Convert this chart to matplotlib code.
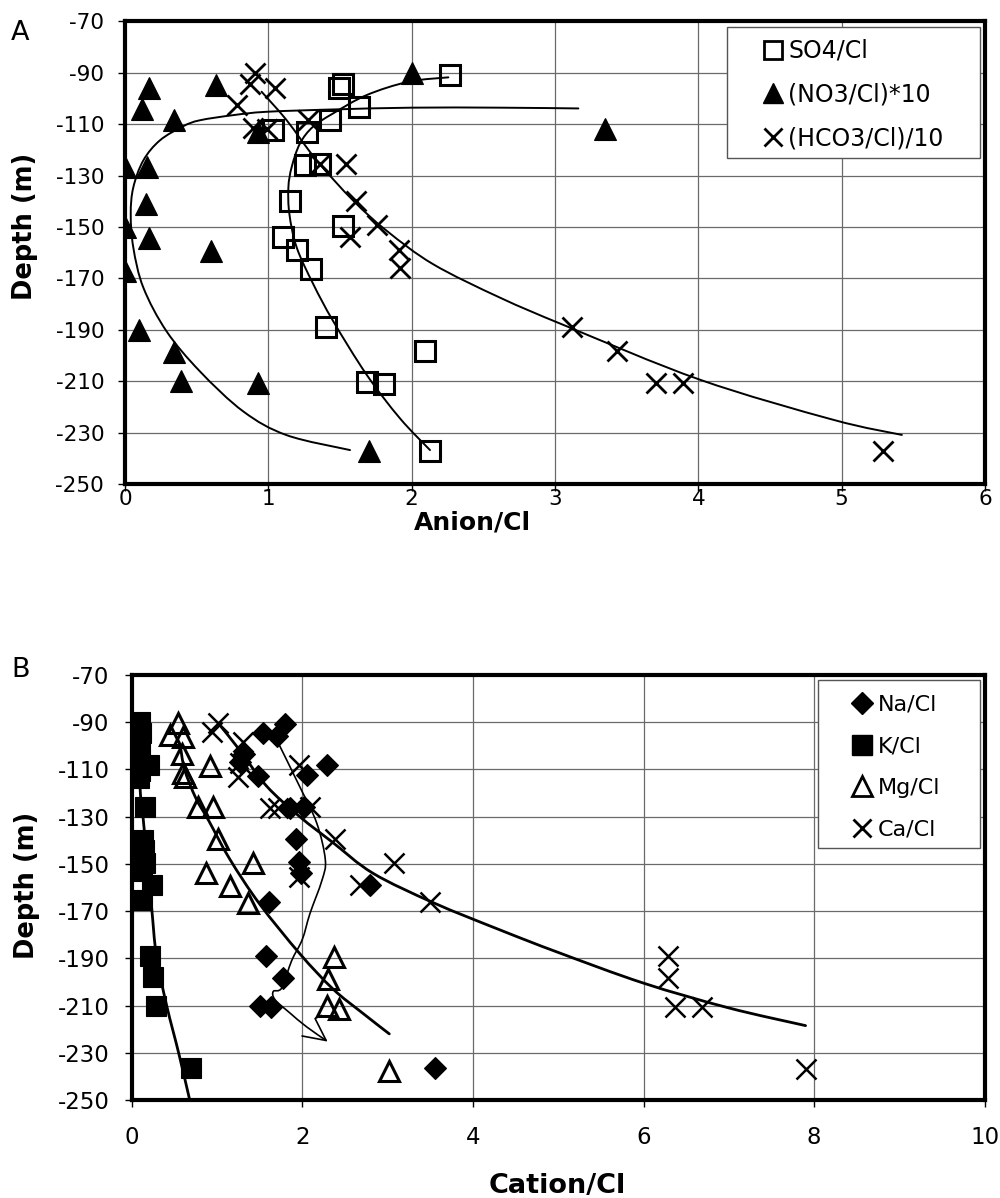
import numpy as np
import matplotlib
matplotlib.use("Agg")
import matplotlib.pyplot as plt
from matplotlib.path import Path
from matplotlib.patches import PathPatch, Rectangle
from matplotlib.lines import Line2D

plt.rcParams["font.family"] = ["DejaVu Sans"]
plt.rcParams["axes.unicode_minus"] = False

# ---------------- Panel A: anion ratios vs depth ----------------
so4_ratio = [2.27, 1.52, 1.495, 1.63, 1.43, 1.035, 1.27, 1.256, 1.36, 1.15,
             1.52, 1.10, 1.20, 1.30, 1.40, 2.09, 1.69, 1.81, 2.13]
so4_depth = [-91, -94.5, -96.1, -103.3, -108.5, -112.4, -113, -126, -125.5, -140,
             -149.5, -153.8, -159, -166.2, -189, -198.4, -210.5, -211.2, -237]

no3_ratio = [2.0, 0.17, 0.635, 0.116, 0.34, 0.93, 3.35, 0.0, 0.156, 0.147,
             0.0, 0.167, 0.60, 0.0, 0.10, 0.34, 0.39, 0.93, 1.70]
no3_depth = [-90.3, -96, -94.8, -104.3, -108.4, -113, -112, -126.5, -126.5, -141,
             -150, -154.4, -159.5, -167, -190, -198.6, -210, -210.6, -237]

hco3_ratio = [0.907, 0.872, 1.047, 0.78, 0.895, 0.99, 1.28, 1.36, 1.54, 1.61,
              1.76, 1.57, 1.91, 1.92, 3.12, 3.43, 3.705, 3.89, 5.29]
hco3_depth = [-90.2, -94.5, -96.1, -102.6, -111.7, -112, -108.5, -125.5, -125.4, -139.8,
              -149.2, -153.8, -159, -165.8, -189, -198.3, -210.7, -210.7, -237]

# hand-drawn trend curves (ratio, depth)
so4_trend_x = [2.256, 1.98, 1.686, 1.45, 1.31, 1.22, 1.163, 1.14, 1.147, 1.198,
               1.314, 1.453, 1.686, 1.919, 2.128]
so4_trend_d = [-91.8, -93.5, -98.7, -105.9, -111.1, -117.6, -126.7, -134.6, -145, -158,
               -172.3, -186.7, -207.5, -224.5, -236.8]

no3_trend_x = [3.163, 2.616, 2.0, 1.453, 0.988, 0.756, 0.523, 0.407, 0.244, 0.128,
               0.058, 0.04, 0.058, 0.128, 0.29, 0.523, 0.826, 1.128, 1.57]
no3_trend_d = [-103.9, -103.6, -103.6, -104.3, -105.2, -106.5, -108.5, -110.8, -116.3, -124.1,
               -134.6, -145, -158, -173.6, -190.6, -206.2, -221.8, -231, -236.8]

hco3_trend_x = [0.953, 1.128, 1.337, 1.593, 1.826, 2.15, 2.616, 3.08, 4.01, 4.94, 5.42]
hco3_trend_d = [-97.4, -108.5, -124.1, -139.8, -151.5, -164.5, -177.5, -188.6, -209.4, -225, -230.9]

# ---------------- Panel B: cation ratios vs depth ----------------
na_ratio = [1.80, 1.54, 1.70, 1.32, 1.27, 2.29, 2.05, 1.48, 1.86, 2.02,
            1.93, 1.96, 1.99, 2.79, 1.61, 1.57, 1.77, 1.50, 1.63, 3.55]
na_depth = [-90.6, -94.4, -96, -103.4, -107, -108, -112.3, -112.7, -126.4, -125.7,
            -139.6, -149, -154, -158.9, -166, -189, -198.3, -210.2, -210.5, -236.6]

k_ratio = [0.10, 0.11, 0.10, 0.09, 0.20, 0.10, 0.08, 0.156, 0.136, 0.14,
           0.156, 0.12, 0.234, 0.117, 0.215, 0.254, 0.285, 0.69]
k_depth = [-90, -94.7, -99.5, -104, -108, -110.7, -113.5, -125.7, -139.9, -144,
           -149.7, -153, -158.9, -165.3, -189, -198, -210.2, -236.6]

mg_ratio = [0.547, 0.449, 0.605, 0.586, 0.918, 0.60, 0.63, 0.781, 0.957, 1.016,
            0.871, 1.426, 1.152, 1.367, 2.375, 2.30, 2.285, 2.43, 3.02]
mg_depth = [-90.2, -95.4, -96.4, -103.4, -108.4, -111.5, -113, -126, -126, -139.6,
            -154, -149.7, -159.2, -166.7, -189.3, -198.9, -210.2, -211.5, -237.6]

ca_ratio = [1.016, 0.94, 1.31, 1.27, 1.25, 1.96, 1.62, 1.72, 2.09, 2.38,
            3.07, 1.96, 2.68, 3.50, 6.29, 6.29, 6.37, 6.68, 7.90]
ca_depth = [-90.4, -94, -98.2, -107.4, -113, -108, -126.4, -126.4, -125.7, -139.6,
            -149.5, -155.4, -158.9, -166, -189, -198.5, -210.5, -210.8, -237]

k_trend_x = [0.08, 0.10, 0.135, 0.23, 0.29, 0.41, 0.55, 0.68]
k_trend_d = [-95, -119, -131, -167, -189, -210, -230, -250]

mg_trend_x = [0.57, 0.62, 0.75, 0.9, 1.15, 1.5, 1.97, 2.36, 2.7, 3.02]
mg_trend_d = [-100, -110, -122, -131.5, -148, -167, -188, -203, -213, -222]

ca_trend_x = [1.05, 1.27, 1.58, 1.97, 2.36, 2.83, 3.54, 4.32, 5.0, 6.0, 7.0, 7.9]
ca_trend_d = [-92, -102, -117, -130, -141, -154, -166.5, -178, -187.5, -200.5, -211, -218.5]

na_trend_x = [1.68, 1.97, 2.17, 2.27, 2.23, 2.09, 2.0, 1.875, 1.76, 1.66, 1.68, 1.85, 2.05, 2.28]
na_trend_d = [-96, -117.3, -132.8, -148.3, -157, -171, -182, -191, -202.5, -204, -207.5, -213, -219, -224.8]
na_arrow_x = [2.0, 2.28, 2.15, 2.22]
na_arrow_d = [-222.9, -224.8, -215.5, -214.2]

# ---------------- figure ----------------
W, H = 1000, 1198
fig = plt.figure(figsize=(W / 100, H / 100), dpi=100)


def fx(px):
    return px / W


def fy(py):
    return 1 - py / H


axA = fig.add_axes([fx(125), fy(484), (985 - 125) / W, (484 - 21.3) / H])
axB = fig.add_axes([fx(131.7), fy(1100), (984.7 - 131.7) / W, (1100 - 675) / H])


def smooth_curve(ax, xs, ys, lw):
    """Draw a smooth Catmull-Rom curve through the given guide points."""
    pts = np.column_stack([xs, ys]).astype(float)
    verts = [pts[0]]
    codes = [Path.MOVETO]
    n = len(pts)
    for i in range(n - 1):
        p0 = pts[i - 1] if i > 0 else pts[i]
        p1 = pts[i]
        p2 = pts[i + 1]
        p3 = pts[i + 2] if i + 2 < n else pts[i + 1]
        verts += [p1 + (p2 - p0) / 6.0, p2 - (p3 - p1) / 6.0, p2]
        codes += [Path.CURVE4] * 3
    patch = PathPatch(Path(verts, codes), fill=False, lw=lw, ec="black",
                      transform=ax.transData, zorder=3, capstyle="round")
    ax.add_patch(patch)


def style(ax, xmax, xstep, fs, ypad, xpad):
    ax.set_xlim(0, xmax)
    ax.set_ylim(-250, -70)
    ax.set_xticks(np.arange(0, xmax + 0.01, xstep))
    ax.set_yticks(np.arange(-250, -69, 20))
    ax.grid(True, color="#6a6a6a", lw=0.9)
    ax.set_axisbelow(True)
    for s in ax.spines.values():
        s.set_linewidth(3)
        s.set_zorder(6)
    ax.tick_params(axis="both", direction="out", length=5, width=1, labelsize=fs)
    ax.tick_params(axis="y", pad=ypad)
    ax.tick_params(axis="x", pad=xpad)


style(axA, 6, 1, 15.5, 10, -1.5)
style(axB, 10, 2, 16.5, 11, 13.5)

# panel A markers
axA.plot(so4_ratio, so4_depth, ls="none", marker="s", ms=14.5, mfc="none", mec="black", mew=2.2, zorder=4)
axA.plot(no3_ratio, no3_depth, ls="none", marker="^", ms=16, mfc="black", mec="black", mew=0.8, zorder=4)
axA.plot(hco3_ratio, hco3_depth, ls="none", marker="x", ms=15, mec="black", mew=2.0, zorder=4)
smooth_curve(axA, so4_trend_x, so4_trend_d, 1.4)
smooth_curve(axA, no3_trend_x, no3_trend_d, 1.4)
smooth_curve(axA, hco3_trend_x, hco3_trend_d, 1.4)

# panel B markers
axB.plot(na_ratio, na_depth, ls="none", marker="D", ms=11.5, mfc="black", mec="black", mew=0.8, zorder=4)
axB.plot(k_ratio, k_depth, ls="none", marker="s", ms=15, mfc="black", mec="black", mew=0.8, zorder=4)
axB.plot(mg_ratio, mg_depth, ls="none", marker="^", ms=15, mfc="none", mec="black", mew=2.2, zorder=4)
axB.plot(ca_ratio, ca_depth, ls="none", marker="x", ms=15, mec="black", mew=1.8, zorder=4)
smooth_curve(axB, k_trend_x, k_trend_d, 2.0)
smooth_curve(axB, mg_trend_x, mg_trend_d, 2.0)
smooth_curve(axB, ca_trend_x, ca_trend_d, 2.0)
smooth_curve(axB, na_trend_x, na_trend_d, 1.2)
axB.plot(na_arrow_x, na_arrow_d, color="black", lw=1.2, zorder=3)

# legends: white framed boxes with marker/label rows
def legend_box(ax, left, top, right, bottom):
    ax.add_patch(Rectangle((fx(left), fy(bottom)), (right - left) / W, (bottom - top) / H,
                           transform=fig.transFigure, facecolor="white", edgecolor="#555555",
                           lw=1.0, zorder=5, clip_on=False))


legend_box(axA, 727, 27, 980, 158)
hA = [Line2D([], [], ls="none", marker="s", ms=13, mfc="none", mec="black", mew=2.0),
      Line2D([], [], ls="none", marker="^", ms=15, mfc="black", mec="black"),
      Line2D([], [], ls="none", marker="x", ms=13, mec="black", mew=2.0)]
legA = axA.legend(hA, ["SO4/Cl", "(NO3/Cl)*10", "(HCO3/Cl)/10"], loc="upper left",
                  bbox_to_anchor=(fx(761), fy(39)), bbox_transform=fig.transFigure,
                  frameon=False, fontsize=17, handlelength=1.0, handletextpad=0.15,
                  labelspacing=0.83, borderpad=0, borderaxespad=0, numpoints=1)
legA.set_zorder(7)

legend_box(axB, 818, 680, 980, 848)
hB = [Line2D([], [], ls="none", marker="D", ms=11, mfc="black", mec="black"),
      Line2D([], [], ls="none", marker="s", ms=14, mfc="black", mec="black"),
      Line2D([], [], ls="none", marker="^", ms=14, mfc="none", mec="black", mew=2.0),
      Line2D([], [], ls="none", marker="x", ms=13, mec="black", mew=2.0)]
legB = axB.legend(hB, ["Na/Cl", "K/Cl", "Mg/Cl", "Ca/Cl"], loc="upper left",
                  bbox_to_anchor=(fx(851), fy(695)), bbox_transform=fig.transFigure,
                  frameon=False, fontsize=16, handlelength=1.0, handletextpad=0.2,
                  labelspacing=0.97, borderpad=0, borderaxespad=0, numpoints=1)
legB.set_zorder(7)

# axis titles and panel letters
fig.text(fx(25), fy(226), "Depth (m)", rotation=90, ha="center", va="center",
         fontsize=18.5, fontweight="bold")
fig.text(fx(472), fy(523), "Anion/Cl", ha="center", va="center",
         fontsize=18, fontweight="bold")
fig.text(fx(27), fy(885), "Depth (m)", rotation=90, ha="center", va="center",
         fontsize=18.5, fontweight="bold")
fig.text(fx(557), fy(1186), "Cation/Cl", ha="center", va="center",
         fontsize=19.5, fontweight="bold")
fig.text(fx(11), fy(40), "A", ha="left", va="baseline", fontsize=19.5)
fig.text(fx(11), fy(677), "B", ha="left", va="baseline", fontsize=19.5)

fig.savefig("out.png", dpi=100, facecolor="white")
